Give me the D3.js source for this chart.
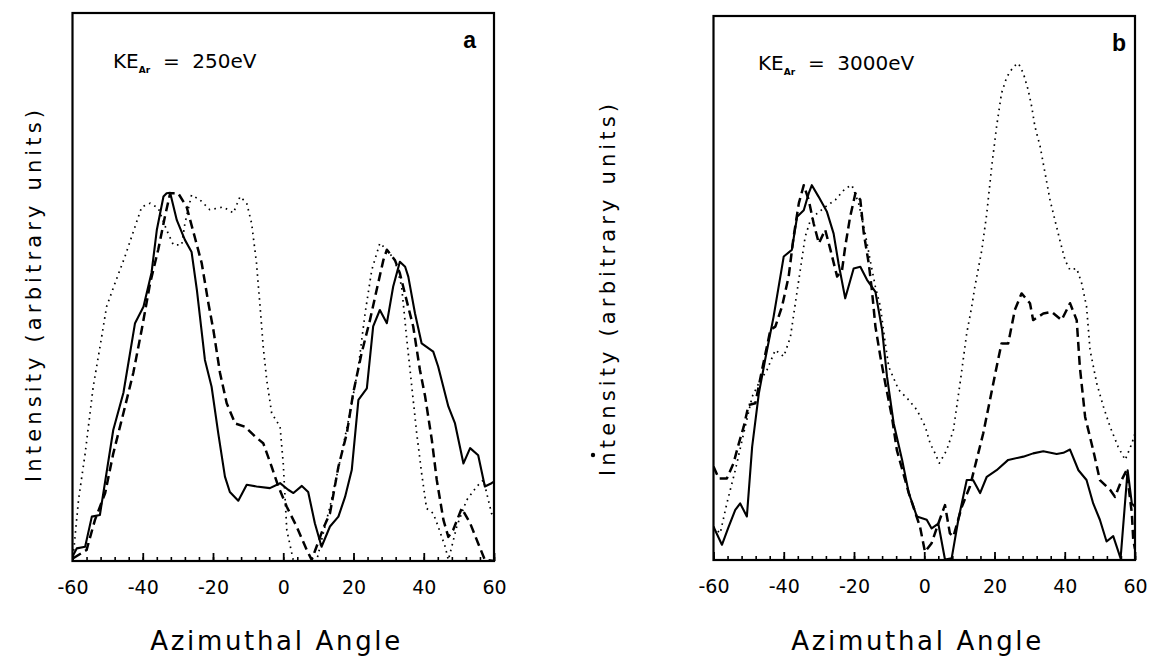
<!DOCTYPE html>
<html>
<head>
<meta charset="utf-8">
<script src="https://cdn.jsdelivr.net/npm/d3@7"></script>
<style>
  html, body { margin: 0; padding: 0; background: #fff; }
  svg { display: block; }
  text { font-family: "DejaVu Sans", sans-serif; fill: #000; }
</style>
</head>
<body>
<svg id="chart" width="1150" height="665"></svg>
<script>
// ---------------- DATA ----------------
const xTicks = [-60, -40, -20, 0, 20, 40, 60];
const xTickLabels = ["-60", "-40", "-20", "0", "20", "40", "60"];
const panelLetters = ["a", "b"];
const energyLabels = ["250eV", "3000eV"];

// Panel a (KE = 250 eV)
const aSolidX = [-60,-58.8,-56.4,-54.5,-52.2,-48.4,-45.5,-42.2,-39.8,-37.5,-36.0,-34.1,-33.2,-32.2,-30.3,-28.0,-26.1,-24.6,-22.3,-20.4,-18.5,-16.6,-15.2,-12.8,-10.4,-7.6,-3.8,-0.9,1.4,2.9,5.3,7.1,9.0,10.9,13.3,15.7,17.6,19.5,21.4,23.8,25.6,27.5,29.5,31.3,33.2,34.7,35.6,37.5,39.4,42.7,44.1,47.0,48.9,51.3,53.2,55.5,57.4,59.3,60];
const aSolidY = [0.8,2.3,2.6,8.1,8.4,23.9,30.7,43.4,46.4,52.6,60.4,66.5,67.1,67.2,62.2,58.6,56.4,49.5,36.7,31.8,23.3,15.4,12.6,11.0,13.9,13.6,13.3,14.2,13.0,12.4,13.7,12.6,6.9,2.6,6.3,8.1,11.7,16.6,29.4,31.5,42.8,45.8,43.4,50.1,54.6,53.7,51.9,45.2,39.7,38.2,35.5,28.2,25.1,17.8,20.6,19.3,13.6,14.2,14.5];

const aDashX = [-59.8,-56,-53.6,-50.7,-48.4,-45.5,-42.7,-40.3,-37.9,-35.6,-33.7,-32.2,-29.9,-27.5,-25.1,-23.2,-21.3,-19.9,-18.0,-16.1,-13.7,-10.9,-8.0,-5.7,-3.3,-1.4,1.0,3.8,6.7,8.1,11.4,13.3,15.7,18.1,19.9,22.3,24.7,26.6,28.5,29.5,31.8,33.2,35.1,37.0,38.9,40.4,42.3,43.7,45.6,47.0,48.4,50.8,53.2,55.5,57.4,60];
const aDashY = [0.5,2.0,7.5,12.4,19.6,27.0,34.3,42.2,50.7,56.8,62.8,67.1,67.1,64.6,58.9,54.3,47.0,42.2,34.3,28.8,25.1,24.5,22.7,21.5,17.2,13.6,9.9,6.3,2.0,0.2,6.0,8.7,17.2,23.3,30.6,37.9,44.0,49.5,54.9,56.8,54.9,52.5,47.6,42.8,34.9,30.0,22.1,14.8,7.5,4.4,5.7,9.6,6.9,3.2,0.2,0];

const aDotX = [-59.8,-58.3,-56.4,-54.1,-51.7,-50.3,-47.9,-45.1,-42.2,-40.3,-37.9,-35.6,-33.2,-31.3,-28.9,-28.0,-26.1,-23.7,-20.9,-17.1,-14.2,-12.3,-10.4,-9.0,-7.6,-6.6,-5.7,-4.7,-3.3,-0.9,0.0,1.0,2.9,9.5,11.4,13.3,16.2,19.0,21.4,23.3,25.2,27.5,29.5,31.8,33.7,35.1,36.6,38.0,39.4,40.8,42.7,44.1,46.1,47.0,47.5,49.4,52.2,55.1,57.0,58.4,59.3,60];
const aDotY = [0.8,11.1,19.6,31.8,40.9,46.4,50.7,55.5,61.0,64.6,65.3,64.4,60.4,57.7,57.7,61.6,66.8,65.9,64.1,64.6,63.5,66.5,65.3,61.6,54.3,46.4,39.1,33.0,27.0,24.5,17.8,5.7,0,0,5.1,9.9,18.4,27.0,35.5,45.2,53.1,58.0,56.8,54.9,50.1,40.9,31.8,23.3,16.0,9.6,8.7,6.3,2.6,0.2,1.4,6.3,11.1,13.6,14.8,11.1,8.7,8.0];

// Panel b (KE = 3000 eV)
const bSolidX = [-60,-57.6,-55.7,-53.8,-52.4,-50.5,-49.0,-47.1,-45.3,-42.9,-40.0,-37.7,-36.2,-34.3,-32.9,-32.0,-30.1,-27.7,-25.8,-24.4,-22.5,-20.1,-18.2,-16.3,-13.9,-12.0,-10.6,-8.7,-6.3,-4.4,-2.1,0.7,2.1,4.0,5.9,7.8,9.7,12.1,13.9,15.9,17.8,20.6,23.9,28.2,31.0,33.9,37.7,39.6,41.5,43.9,46.2,48.1,50.0,51.9,53.8,55.9,57.9,59.1,60];
const bSolidY = [6.1,2.8,6.1,9.2,10.4,8.0,20.8,30.6,36.8,44.7,55.8,57.0,63.1,64.3,67.4,68.9,66.8,64.0,60.0,54.5,48.1,53.6,53.9,51.5,49.3,42.3,33.7,25.1,18.4,12.3,8.0,7.4,5.8,6.7,0.1,0.3,7.4,14.7,14.7,12.3,15.3,16.5,18.4,19.0,19.6,20.0,19.5,19.7,20.3,16.5,14.7,10.4,7.4,3.4,4.4,0.3,16.5,10.4,9.8];

const bDashX = [-60,-58.5,-56.2,-54.3,-52.8,-51.4,-50.0,-48.1,-46.2,-43.8,-42.4,-40.5,-38.6,-37.2,-35.7,-34.3,-32.9,-31.5,-30.0,-28.2,-26.7,-24.8,-23.4,-22.5,-21.1,-19.6,-18.2,-17.2,-15.8,-14.9,-13.9,-12.5,-11.1,-9.2,-7.8,-4.4,-1.2,0.2,2.1,4.0,5.9,7.3,8.3,10.7,13.0,14.9,16.8,18.7,20.6,22.0,23.9,25.8,27.7,30.1,31.0,33.9,36.3,39.1,41.5,43.4,44.3,45.8,48.1,50.0,52.9,54.3,56.2,57.6,59.1,59.5,60];
const bDashY = [17.2,15.0,15.0,17.8,21.4,24.5,28.5,28.8,34.9,42.3,42.9,46.6,52.1,59.4,65.6,68.9,66.2,61.9,58.2,60.7,57.0,52.1,53.3,57.6,63.1,67.4,66.2,60.0,54.5,49.6,42.9,37.4,32.5,26.3,20.2,12.3,6.1,1.5,3.1,6.7,10.1,4.9,4.3,9.8,13.5,18.4,23.3,29.4,35.5,39.8,39.8,46.0,49.0,47.2,44.1,45.3,45.6,44.1,47.2,44.1,35.5,26.3,20.2,14.7,12.9,11.6,14.7,16.5,8.6,3.7,2.0];

const bDotX = [-60,-58.1,-56.2,-53.8,-51.4,-49.0,-47.1,-44.8,-42.4,-40.0,-38.1,-36.7,-35.3,-33.9,-32.4,-30.5,-28.2,-25.3,-22.5,-20.6,-18.7,-16.8,-15.4,-13.9,-12.5,-11.1,-10.1,-7.3,-4.4,-2.1,0.3,1.7,3.1,4.3,6.4,8.3,10.2,12.1,13.5,14.4,16.4,17.8,19.2,20.6,22.0,23.5,25.4,26.8,28.2,29.6,30.6,31.5,33.0,34.4,35.8,37.2,38.6,40.1,41.5,43.4,44.8,46.2,47.2,49.1,51.0,52.9,55.2,57.2,59.1,60];
const bDotY = [6.1,4.9,10.4,16.5,23.3,30.0,32.5,34.9,38.6,37.4,41.0,47.2,53.3,59.4,62.5,63.7,64.9,66.2,68.3,68.9,65.6,60.0,55.1,50.2,46.6,39.8,35.5,31.3,29.4,27.6,24.5,21.4,19.6,17.8,20.2,23.9,32.5,41.7,46.5,50.2,57.0,63.7,72.3,79.7,85.8,88.8,90.7,91.3,89.5,86.4,83.3,79.7,76.0,71.1,66.2,62.5,58.8,55.1,53.3,53.6,50.9,46.6,38.6,32.5,28.2,24.5,20.8,18.4,21.4,23.3];

// ---------------- DRAW ----------------
const svg = d3.select("#chart");

const panels = [
  { id: "a", left: 72.5, right: 494, top: 13, bottom: 561, letter: panelLetters[0], energy: energyLabels[0],
    keX: 113, keY: 68, letterX: 476, letterY: 48, ylabX: 34, ylabY: 296, dot: null,
    series: [
      { x: aDotX, y: aDotY, style: "dot" },
      { x: aDashX, y: aDashY, style: "dash" },
      { x: aSolidX, y: aSolidY, style: "solid" }
    ] },
  { id: "b", left: 713.5, right: 1135, top: 16, bottom: 560, letter: panelLetters[1], energy: energyLabels[1],
    keX: 758, keY: 70, letterX: 1126, letterY: 51, ylabX: 608, ylabY: 290, dot: [593, 455],
    series: [
      { x: bDotX, y: bDotY, style: "dot" },
      { x: bDashX, y: bDashY, style: "dash" },
      { x: bSolidX, y: bSolidY, style: "solid" }
    ] }
];

const styles = {
  solid: { w: 2.1, dash: null },
  dash:  { w: 2.5, dash: "9,5" },
  dot:   { w: 1.7, dash: "1.6,4.4" }
};

panels.forEach(p => {
  const x = d3.scaleLinear().domain([-60, 60]).range([p.left, p.right]);
  const y = d3.scaleLinear().domain([0, 100]).range([p.bottom, p.top]);

  const clipId = "clip-" + p.id;
  svg.append("clipPath").attr("id", clipId)
    .append("rect").attr("x", p.left).attr("y", p.top)
    .attr("width", p.right - p.left).attr("height", p.bottom - p.top);

  const g = svg.append("g");
  const lg = g.append("g").attr("clip-path", `url(#${clipId})`);

  p.series.forEach(s => {
    const pts = s.x.map((v, i) => [v, s.y[i]]);
    const line = d3.line().x(d => x(d[0])).y(d => y(d[1]));
    const st = styles[s.style];
    lg.append("path").datum(pts)
      .attr("d", line)
      .attr("fill", "none")
      .attr("stroke", "#000")
      .attr("stroke-width", st.w)
      .attr("stroke-linejoin", "round")
      .attr("stroke-dasharray", st.dash);
  });

  // minor ticks (inward)
  const minor = d3.range(-60, 61, 4);
  const minorAxis = d3.axisTop(x).tickValues(minor).tickSize(4).tickFormat("");
  const ma = g.append("g").attr("transform", `translate(0,${p.bottom})`).call(minorAxis);
  ma.select(".domain").remove();
  ma.selectAll("line").attr("stroke", "#000").attr("stroke-width", 1.6);

  // major ticks (inward)
  const majorAxis = d3.axisTop(x).tickValues(xTicks).tickSize(8).tickFormat("");
  const mj = g.append("g").attr("transform", `translate(0,${p.bottom})`).call(majorAxis);
  mj.select(".domain").remove();
  mj.selectAll("line").attr("stroke", "#000").attr("stroke-width", 1.8);

  // tick labels
  const lab = d3.axisBottom(x).tickValues(xTicks).tickSize(0)
    .tickFormat((d, i) => xTickLabels[i]);
  const la = g.append("g").attr("transform", `translate(0,${p.bottom})`).call(lab);
  la.select(".domain").remove();
  la.selectAll("text")
    .attr("y", 33)
    .attr("dy", 0)
    .style("font-family", "DejaVu Sans, sans-serif")
    .style("font-size", "19px")
    .attr("fill", "#000");

  // frame
  g.append("rect")
    .attr("x", p.left).attr("y", p.top)
    .attr("width", p.right - p.left).attr("height", p.bottom - p.top)
    .attr("fill", "none").attr("stroke", "#000").attr("stroke-width", 2.2);

  // KE label
  const ke = g.append("text").attr("x", p.keX).attr("y", p.keY)
    .style("font-size", "20px");
  ke.append("tspan").text("KE");
  ke.append("tspan").attr("dy", 5).style("font-size", "9px").style("font-weight", "bold").text("Ar");
  ke.append("tspan").attr("dy", -5).text("  =  " + p.energy).attr("xml:space", "preserve");

  // panel letter
  g.append("text").attr("x", p.letterX).attr("y", p.letterY)
    .attr("text-anchor", "end")
    .style("font-family", "Liberation Sans, Arial, sans-serif")
    .style("font-weight", "bold").style("font-size", "23px")
    .text(p.letter);

  // x title
  g.append("text")
    .attr("x", (p.left + p.right) / 2 - 8).attr("y", 650)
    .attr("text-anchor", "middle")
    .style("font-size", "26px")
    .attr("textLength", 250).attr("lengthAdjust", "spacing")
    .text("Azimuthal Angle");

  // y title
  g.append("text")
    .attr("transform", `translate(${p.ylabX},${p.ylabY}) rotate(-90)`)
    .attr("text-anchor", "middle")
    .attr("dominant-baseline", "central")
    .style("font-size", "21px")
    .attr("textLength", 372).attr("lengthAdjust", "spacing")
    .text("Intensity (arbitrary units)");

  if (p.dot) {
    g.append("circle").attr("cx", p.dot[0]).attr("cy", p.dot[1]).attr("r", 2.2).attr("fill", "#000");
  }
});
</script>
</body>
</html>
